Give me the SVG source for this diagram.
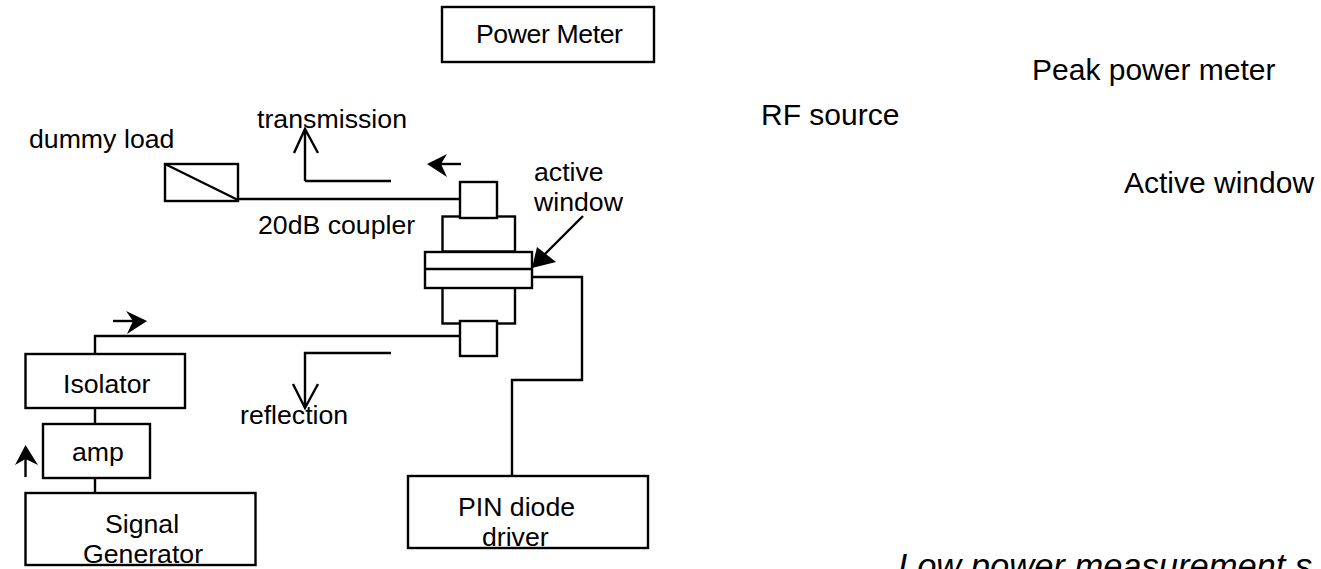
<svg xmlns="http://www.w3.org/2000/svg" width="1321" height="569" viewBox="0 0 1321 569">
<style>
text{font-family:"Liberation Sans",Arial,sans-serif;font-size:26.670px;fill:#000}
.r{font-size:30px}
.i{font-size:34.500px;font-style:italic}
.s{fill:none;stroke:#000;stroke-width:2.4}
.b{fill:#fff;stroke:#000;stroke-width:2.400}
.f{fill:#000;stroke:none}
</style>
<rect width="1321" height="569" fill="#fff"/>
<g id="connectors">
<path class="s" d="M237 199H460M305 181V130M391 181H305M294 153L305 129L318 153"/>
<path class="s" d="M95 353V336H460M391 353H305V408M293 384L305 408L318 384"/>
<path class="s" d="M95 406V424M95 476V493"/>
<path class="s" d="M529 277H582V380H512V476"/>
<path class="s" d="M583 216L545 254"/>
<path class="f" d="M532 268L537 247L556 262Z"/>
<path class="s" d="M461 164H440"/>
<path class="f" d="M427 164L447 154L441 164L447 177Z"/>
<path class="s" d="M113 321H134"/>
<path class="f" d="M147 321L126 311L133 321L127 334Z"/>
<path class="s" d="M25.500 477V458"/>
<path class="f" d="M25.500 445L15 465L25.500 459L38 465Z"/>
</g>
<g id="power-meter"><rect class="b" x="442" y="7" width="212" height="55"/><text x="476" y="43" textLength="147">Power Meter</text></g>
<g id="dummy-load"><rect class="b" x="165" y="164" width="73" height="37"/><path class="s" d="M165 164L238 200"/><text x="29" y="148">dummy <tspan x="124">load</tspan></text></g>
<g id="window">
<rect class="b" x="442.500" y="216.500" width="72.500" height="35"/>
<rect class="b" x="442.500" y="286.500" width="72.500" height="37"/>
<rect class="b" x="460" y="182" width="37" height="36"/>
<rect class="b" x="460" y="321" width="37" height="35"/>
<rect class="b" x="425" y="252" width="107" height="36"/>
<path class="s" d="M425 269H532"/>
</g>
<g id="isolator"><rect class="b" x="25.500" y="354" width="159.500" height="54"/><text x="63" y="393">Isolator</text></g>
<g id="amp"><rect class="b" x="43" y="424" width="107" height="54"/><text x="72" y="461">amp</text></g>
<g id="signal-generator"><rect class="b" x="25.500" y="493" width="230" height="72"/><text x="105" y="533">Signal</text><text x="83" y="563">Generator</text></g>
<g id="pin-driver"><rect class="b" x="408" y="476" width="240" height="72"/><text x="458" y="516">PIN diode</text><text x="482" y="546">driver</text></g>
<text x="257" y="128" textLength="150">transmission</text>
<text x="258" y="234">20dB coupler</text>
<text x="240" y="424">reflection</text>
<text x="534" y="181">active</text>
<text x="534" y="211">window</text>
<text class="r" x="761" y="125">RF source</text>
<text class="r" x="1032" y="80">Peak power meter</text>
<text class="r" x="1124" y="193">Active window</text>
<text class="i" x="898" y="578">Low power measurement s</text>
</svg>
